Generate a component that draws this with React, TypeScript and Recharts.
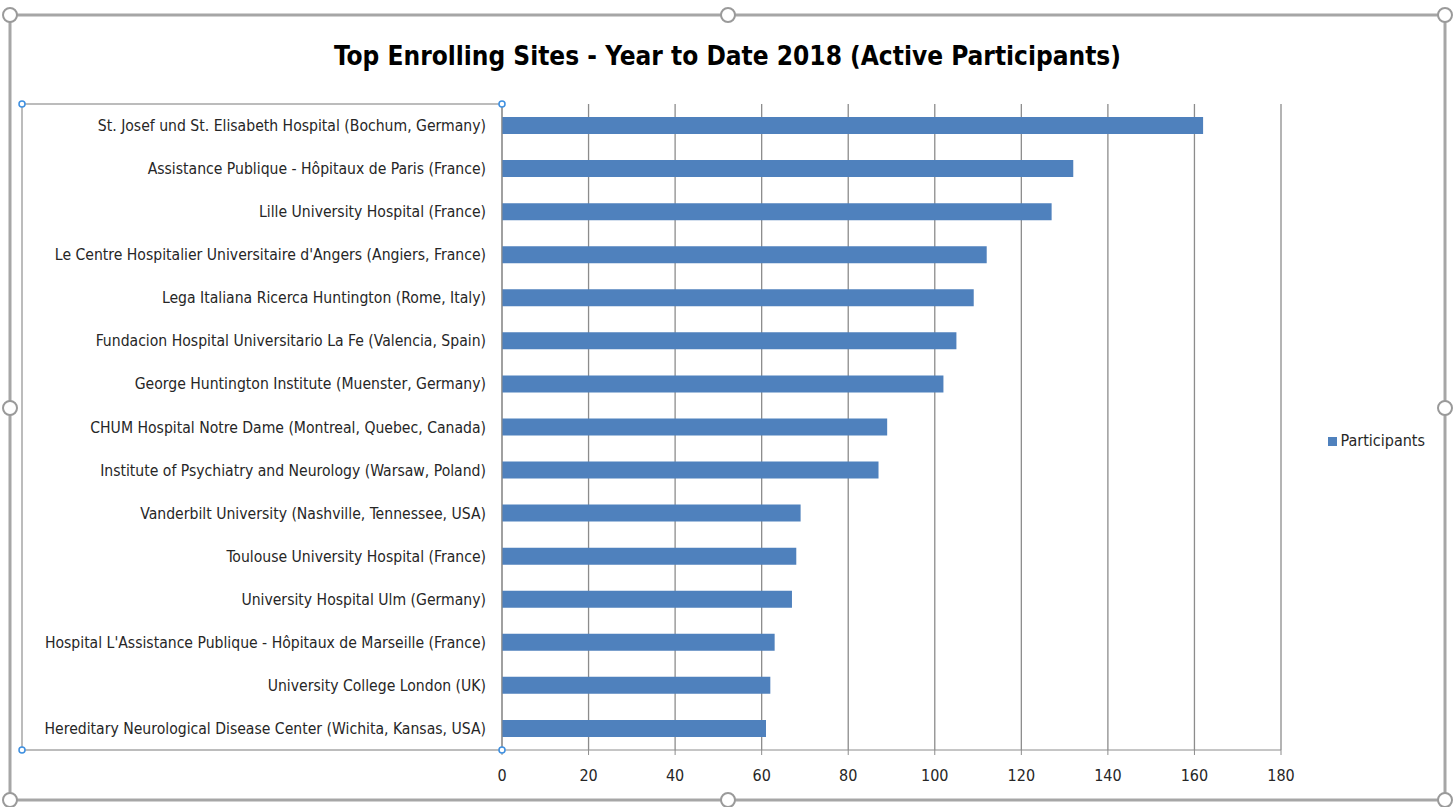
import React from 'react';
import { BarChart, Bar, XAxis, YAxis, CartesianGrid, Legend } from 'recharts';

const sites = [
  'St. Josef und St. Elisabeth Hospital (Bochum, Germany)',
  'Assistance Publique - Hôpitaux de Paris (France)',
  'Lille University Hospital (France)',
  "Le Centre Hospitalier Universitaire d'Angers (Angiers, France)",
  'Lega Italiana Ricerca Huntington (Rome, Italy)',
  'Fundacion Hospital Universitario La Fe (Valencia, Spain)',
  'George Huntington Institute (Muenster, Germany)',
  'CHUM Hospital Notre Dame (Montreal, Quebec, Canada)',
  'Institute of Psychiatry and Neurology (Warsaw, Poland)',
  'Vanderbilt University (Nashville, Tennessee, USA)',
  'Toulouse University Hospital (France)',
  'University Hospital Ulm (Germany)',
  "Hospital L'Assistance Publique - Hôpitaux de Marseille (France)",
  'University College London (UK)',
  'Hereditary Neurological Disease Center (Wichita, Kansas, USA)',
];

const participants = [162, 132, 127, 112, 109, 105, 102, 89, 87, 69, 68, 67, 63, 62, 61];

const xTicks = [0, 20, 40, 60, 80, 100, 120, 140, 160, 180];

const data = sites.map((site, i) => ({ site, Participants: participants[i] }));

const FONT = "'DejaVu Sans Condensed', 'Liberation Sans Narrow', sans-serif";
const BAR_COLOR = '#4F81BD';
const GRID = '#8c8c8c';

const handles = [
  [10, 15], [728, 15], [1445, 15],
  [10, 408], [1445, 408],
  [10, 800], [728, 800], [1445, 800],
];

const blueHandles = [[22, 104], [502, 104], [22, 750], [502, 750]];

export default function App() {
  return (
    <div style={{ position: 'absolute', left: 0, top: 0, width: 1455, height: 807, background: '#fff', fontFamily: FONT }}>
      <div
        style={{
          position: 'absolute',
          left: 0,
          width: 1455,
          top: 41,
          textAlign: 'center',
          fontSize: 26,
          fontWeight: 'bold',
          color: '#000',
        }}
      >
        Top Enrolling Sites - Year to Date 2018 (Active Participants)
      </div>
      <BarChart
        width={1455}
        height={807}
        data={data}
        layout="vertical"
        margin={{ top: 104, right: 34, bottom: 27, left: 0 }}
        style={{ position: 'absolute', left: 0, top: 0 }}
      >
        <CartesianGrid horizontal={false} stroke={GRID} strokeWidth={1.3} />
        <XAxis
          type="number"
          domain={[0, 180]}
          ticks={xTicks}
          interval={0}
          height={30}
          stroke={GRID}
          tickSize={5}
          tickMargin={15}
          tick={{ fill: '#262626', fontSize: 16, fontFamily: FONT }}
        />
        <YAxis
          type="category"
          dataKey="site"
          width={502}
          interval={0}
          stroke={GRID}
          tickLine={false}
          tickSize={6}
          tickMargin={10}
          tick={{ fill: '#262626', fontSize: 15.6, fontFamily: FONT }}
        />
        <Legend
          layout="horizontal"
          verticalAlign="middle"
          align="right"
          iconType="square"
          iconSize={9}
          wrapperStyle={{ right: 20, top: 431, width: 140, fontSize: 16, fontFamily: FONT }}
          formatter={(value) => <span style={{ color: '#262626' }}>{value}</span>}
        />
        <Bar dataKey="Participants" fill={BAR_COLOR} barSize={17} isAnimationActive={false} />
      </BarChart>
      <svg width={1455} height={807} style={{ position: 'absolute', left: 0, top: 0, pointerEvents: 'none' }}>
        <rect x={10} y={15} width={1435} height={785} fill="none" stroke="#a6a6a6" strokeWidth={3} />
        <polyline points="502,104 22,104 22,750 502,750" fill="none" stroke="#a6a6a6" strokeWidth={1.5} />
        {handles.map(([x, y], i) => (
          <circle key={i} cx={x} cy={y} r={7} fill="#fff" stroke="#9a9a9a" strokeWidth={2} />
        ))}
        {blueHandles.map(([x, y], i) => (
          <circle key={i} cx={x} cy={y} r={3} fill="#fff" stroke="#3d8fe0" strokeWidth={1.5} />
        ))}
      </svg>
    </div>
  );
}
